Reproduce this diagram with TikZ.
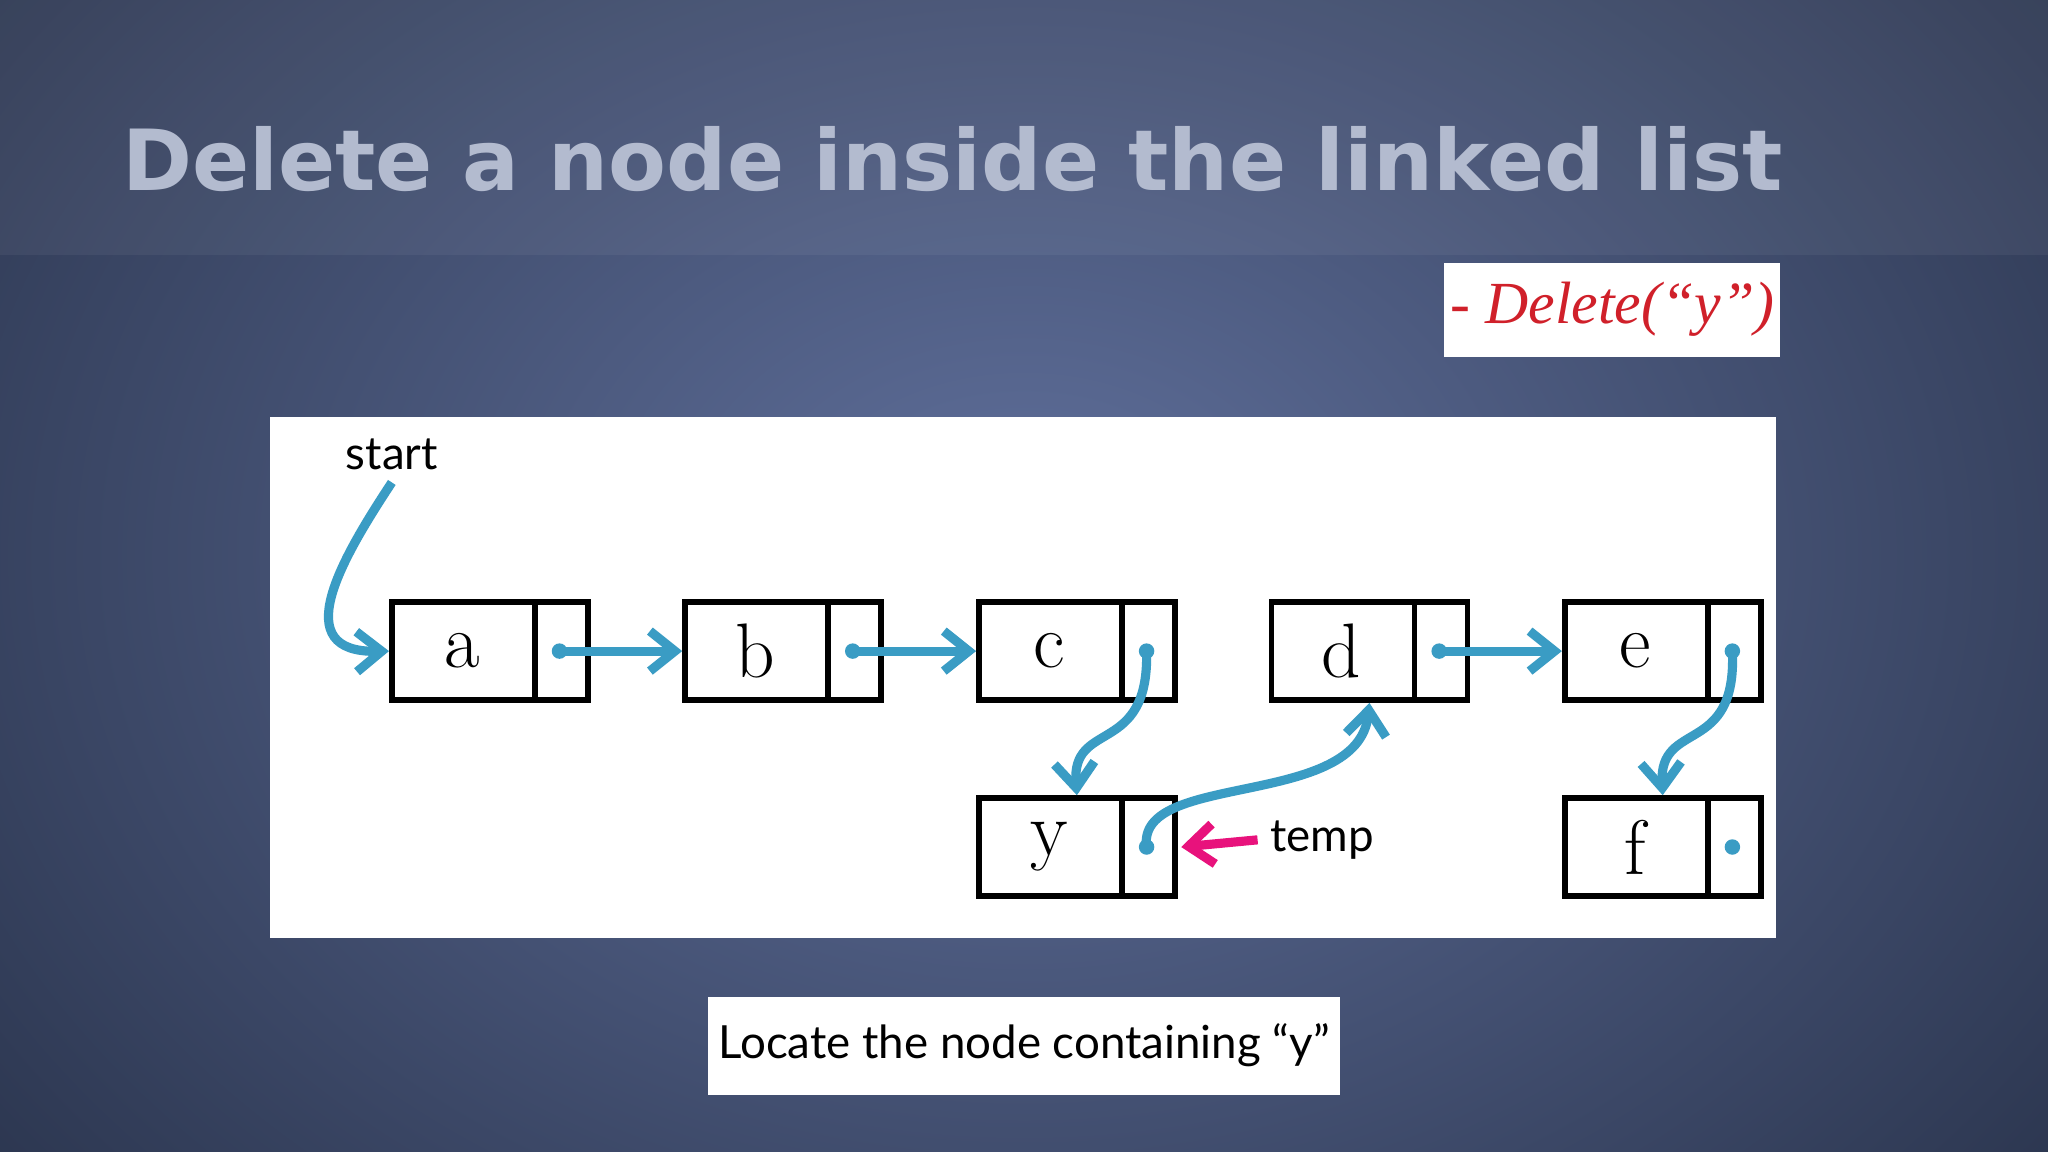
\documentclass[tikz,border=0pt]{standalone}
\usepackage{fontspec}
\setmainfont{DejaVu Sans}
\newfontfamily\serifit{Liberation Serif}
\newfontfamily\lm{Latin Modern Roman}
\newfontfamily\lato{Lato}
\usetikzlibrary{arrows.meta}
\definecolor{lk}{HTML}{3A9CC4}
\definecolor{ttl}{HTML}{B3BBCF}
\definecolor{mag}{HTML}{E8127C}
\definecolor{dred}{HTML}{D0202A}
\tikzset{
  cell/.style={draw=black, line width=1.6pt, minimum width=1.96cm, minimum height=0.98cm, inner sep=0pt},
  lnk/.style={draw=lk, line width=2.6pt, -{Straight Barb[length=2.5mm,width=4mm]}},
  lbl/.style={font=\lm\fontsize{22}{24}\selectfont},
  sm/.style={font=\lato\fontsize{13}{15}\selectfont},
}
\begin{document}
\begin{tikzpicture}[x=0.013061cm,y=-0.013061cm]
\useasboundingbox (0,0) rectangle (1568,882);
\shade[inner color={rgb,255:red,96;green,112;blue,156}, outer color={rgb,255:red,40;green,50;blue,74}] (-300,-400) rectangle (1868,1250);
\fill[white,opacity=0.05] (0,0) rectangle (1568,195);
\node[anchor=west, text=ttl, font=\bfseries\fontsize{24}{28}\selectfont, inner sep=0pt] (title) at (93,122) {Delete a node inside the linked list};
% boxes
\node[fill=white, minimum width=3.36cm, minimum height=0.94cm, inner sep=0pt] (del) at (1234.5,237) {\serifit\itshape\fontsize{17}{20}\selectfont\color{dred}- Delete(“y”)};
\fill[white] (207,319) rectangle (1360,718);
\node[fill=white, minimum width=6.32cm, minimum height=0.98cm, inner sep=0pt, sm] (loc) at (784,800.5) {Locate the node containing “y”};
\node[sm] (start) at (300,348) {start};
\node[sm] (temp) at (1012,643) {temp};
% list nodes
\foreach \n/\x/\y in {a/375/498.5,b/599.5/498.5,c/824.5/498.5,d/1048.5/498.5,e/1273/498.5,y/824.5/648.5,f/1273/648.5}{
  \node[cell] (\n) at (\x,\y) {};
  \draw[line width=1.6pt] ([xshift=1.46cm]\n.north west) coordinate (\n s) -- ([xshift=1.46cm]\n.south west);
  \coordinate (\n p) at ([xshift=0.245cm]\n s |- \n.center);
  \node[lbl] (\n t) at ([xshift=0.73cm]\n.west) {\n};
}
\foreach \n in {a,b,c,d,e,y,f}{\fill[lk] (\n p) circle (2.2pt);}
\draw[lnk] (start.south) .. controls (260,430) and (220,500) .. (a.west);
\draw[lnk] (ap) -- (b.west);
\draw[lnk] (bp) -- (c.west);
\draw[lnk] (dp) -- (e.west);
\draw[lnk] (cp) .. controls (880,580) and (820,550) .. (y.north);
\draw[lnk] (ep) .. controls (1330,580) and (1270,550) .. (f.north);
\draw[lnk] (yp) .. controls (870,590) and (1040,620) .. (d.south);
\draw[draw=mag, line width=2.6pt, -{Straight Barb[length=2.5mm,width=4mm]}] (temp.west) -- ([xshift=1pt]y.east);
\end{tikzpicture}
\end{document}
